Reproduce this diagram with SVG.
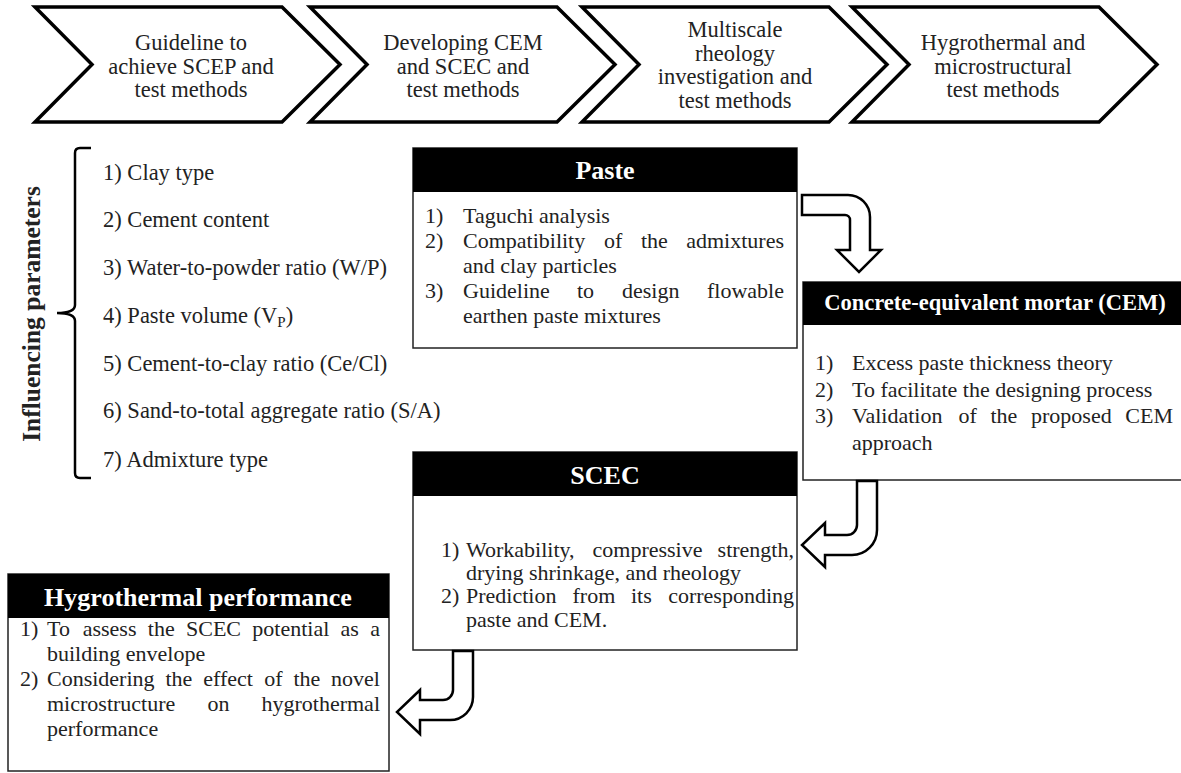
<svg xmlns="http://www.w3.org/2000/svg" width="1181" height="773" viewBox="0 0 1181 773">
<style>
.chev{fill:#fff;stroke:#000;stroke-width:3.5;stroke-linejoin:miter}
.ct{font-family:"Times New Roman","Liberation Serif",Tinos,Times,serif;font-size:22.5px;fill:#222;text-anchor:middle}
.t{font-family:"Times New Roman","Liberation Serif",Tinos,Times,serif;font-size:22px;fill:#222}
.li{font-size:22.5px}
.e{text-anchor:end}
.box{fill:#fff;stroke:#222;stroke-width:1.5}
.hdr{fill:#000}
.ht{font-family:"Times New Roman","Liberation Serif",Tinos,Times,serif;font-weight:bold;font-size:26px;fill:#fff;text-anchor:middle}
.hs{font-size:22.5px}
.arr{fill:#fff;stroke:#000;stroke-width:2.5;stroke-linejoin:miter}
</style>
<rect width="1181" height="773" fill="#fff"/>

<g id="step1">
<path class="chev" d="M35,7 H282 L340,64.5 L282,122 H35 L92,64.5 Z"/>
<text class="ct" x="191" y="50">Guideline to</text>
<text class="ct" x="191" y="73.5">achieve SCEP and</text>
<text class="ct" x="191" y="97">test methods</text>
</g>
<g id="step2">
<path class="chev" d="M310,7 H557 L615,64.5 L557,122 H310 L367,64.5 Z"/>
<text class="ct" x="463" y="50">Developing CEM</text>
<text class="ct" x="463" y="73.5">and SCEC and</text>
<text class="ct" x="463" y="97">test methods</text>
</g>
<g id="step3">
<path class="chev" d="M582,7 H829 L887,64.5 L829,122 H582 L639,64.5 Z"/>
<text class="ct" x="735" y="37">Multiscale</text>
<text class="ct" x="735" y="60.5">rheology</text>
<text class="ct" x="735" y="84">investigation and</text>
<text class="ct" x="735" y="107.5">test methods</text>
</g>
<g id="step4">
<path class="chev" d="M852,7 H1099 L1157,64.5 L1099,122 H852 L909,64.5 Z"/>
<text class="ct" x="1003" y="50">Hygrothermal and</text>
<text class="ct" x="1003" y="73.5">microstructural</text>
<text class="ct" x="1003" y="97">test methods</text>
</g>

<g id="parameters">
<text style="font-family:'Times New Roman','Liberation Serif',Tinos,Times,serif;font-weight:bold;font-size:25.5px;fill:#222;text-anchor:middle" transform="translate(40,314) rotate(-90)">Influencing parameters</text>
<path d="M91,148 H80 Q75,148 75,153 V305 Q75,313 57,313 Q75,313 75,321 V473 Q75,478 80,478 H91" fill="none" stroke="#000" stroke-width="2.5"/>
<text class="t li" x="103" y="180">1) Clay type</text>
<text class="t li" x="103" y="227">2) Cement content</text>
<text class="t li" x="103" y="275">3) Water-to-powder ratio (W/P)</text>
<text class="t li" x="103" y="323">4) Paste volume (V<tspan style="font-size:15px" dy="4">P</tspan><tspan dy="-4">)</tspan></text>
<text class="t li" x="103" y="371">5) Cement-to-clay ratio (Ce/Cl)</text>
<text class="t li" x="103" y="418">6) Sand-to-total aggregate ratio (S/A)</text>
<text class="t li" x="103" y="467">7) Admixture type</text>
</g>

<g id="paste">
<rect class="box" x="413" y="148" width="384" height="200"/>
<rect class="hdr" x="413" y="148" width="384" height="44"/>
<text class="ht" x="605" y="179">Paste</text>
<text class="t" x="425" y="223">1)</text><text class="t" x="463" y="223">Taguchi analysis</text>
<text class="t" x="425" y="248">2)</text><text class="t" x="463" y="248">Compatibility</text><text class="t" x="604" y="248">of</text><text class="t" x="641" y="248">the</text><text class="t e" x="784" y="248">admixtures</text>
<text class="t" x="463" y="273">and clay particles</text>
<text class="t" x="425" y="298">3)</text><text class="t" x="463" y="298">Guideline</text><text class="t" x="577" y="298">to</text><text class="t" x="622" y="298">design</text><text class="t e" x="784" y="298">flowable</text>
<text class="t" x="463" y="323">earthen paste mixtures</text>
</g>

<g id="cem">
<rect class="box" x="803" y="282" width="380" height="198"/>
<rect class="hdr" x="803" y="282" width="380" height="43"/>
<text class="ht hs" x="995" y="310">Concrete-equivalent mortar (CEM)</text>
<text class="t" x="815" y="370">1)</text><text class="t" x="852" y="370">Excess paste thickness theory</text>
<text class="t" x="815" y="397">2)</text><text class="t" x="852" y="397">To facilitate the designing process</text>
<text class="t" x="815" y="423">3)</text><text class="t" x="852" y="423">Validation</text><text class="t" x="958.5" y="423">of</text><text class="t" x="990.5" y="423">the</text><text class="t" x="1031" y="423">proposed</text><text class="t e" x="1173" y="423">CEM</text>
<text class="t" x="852" y="450">approach</text>
</g>

<g id="scec">
<rect class="box" x="413" y="452" width="384" height="198"/>
<rect class="hdr" x="413" y="452" width="384" height="44"/>
<text class="ht" x="605" y="484">SCEC</text>
<text class="t" x="441" y="557">1)</text><text class="t" x="466" y="557">Workability,</text><text class="t" x="592.5" y="557">compressive</text><text class="t e" x="794" y="557">strength,</text>
<text class="t" x="466" y="580">drying shrinkage, and rheology</text>
<text class="t" x="441" y="603">2)</text><text class="t" x="466" y="603">Prediction</text><text class="t" x="572.5" y="603">from</text><text class="t" x="631" y="603">its</text><text class="t e" x="794" y="603">corresponding</text>
<text class="t" x="466" y="627">paste and CEM.</text>
</g>

<g id="hygrothermal">
<rect class="box" x="8" y="574" width="381" height="197"/>
<rect class="hdr" x="8" y="574" width="381" height="44"/>
<text class="ht" x="198" y="606">Hygrothermal performance</text>
<text class="t" x="20" y="636">1)</text><text class="t" x="47" y="636">To</text><text class="t" x="82.7" y="636">assess</text><text class="t" x="147.8" y="636">the</text><text class="t" x="186" y="636">SCEC</text><text class="t" x="252.3" y="636">potential</text><text class="t" x="340.6" y="636">as</text><text class="t e" x="380" y="636">a</text>
<text class="t" x="47" y="661">building envelope</text>
<text class="t" x="20" y="686">2)</text><text class="t" x="47" y="686">Considering</text><text class="t" x="165.5" y="686">the</text><text class="t" x="203.3" y="686">effect</text><text class="t" x="264.3" y="686">of</text><text class="t" x="293.5" y="686">the</text><text class="t e" x="380" y="686">novel</text>
<text class="t" x="47" y="711">microstructure</text><text class="t" x="207.4" y="711">on</text><text class="t e" x="380" y="711">hygrothermal</text>
<text class="t" x="47" y="736">performance</text>
</g>

<g id="connectors">
<path class="arr" d="M802,195 H848 A22,22 0 0 1 870,217 V250 H881 L859,272 L837,250 H850 V220 A5,5 0 0 0 845,215 H802 Z"/>
<path class="arr" d="M857,481 V525 A10,10 0 0 1 847,535 H825 V523 L802,545 L825,567 V555 H852 A25,25 0 0 0 877,530 V481 Z"/>
<path class="arr" d="M453,651 V690 A10,10 0 0 1 443,700 H420 V690 L397,712 L420,734 V720 H450 A23,23 0 0 0 473,697 V651 Z"/>
</g>
</svg>
